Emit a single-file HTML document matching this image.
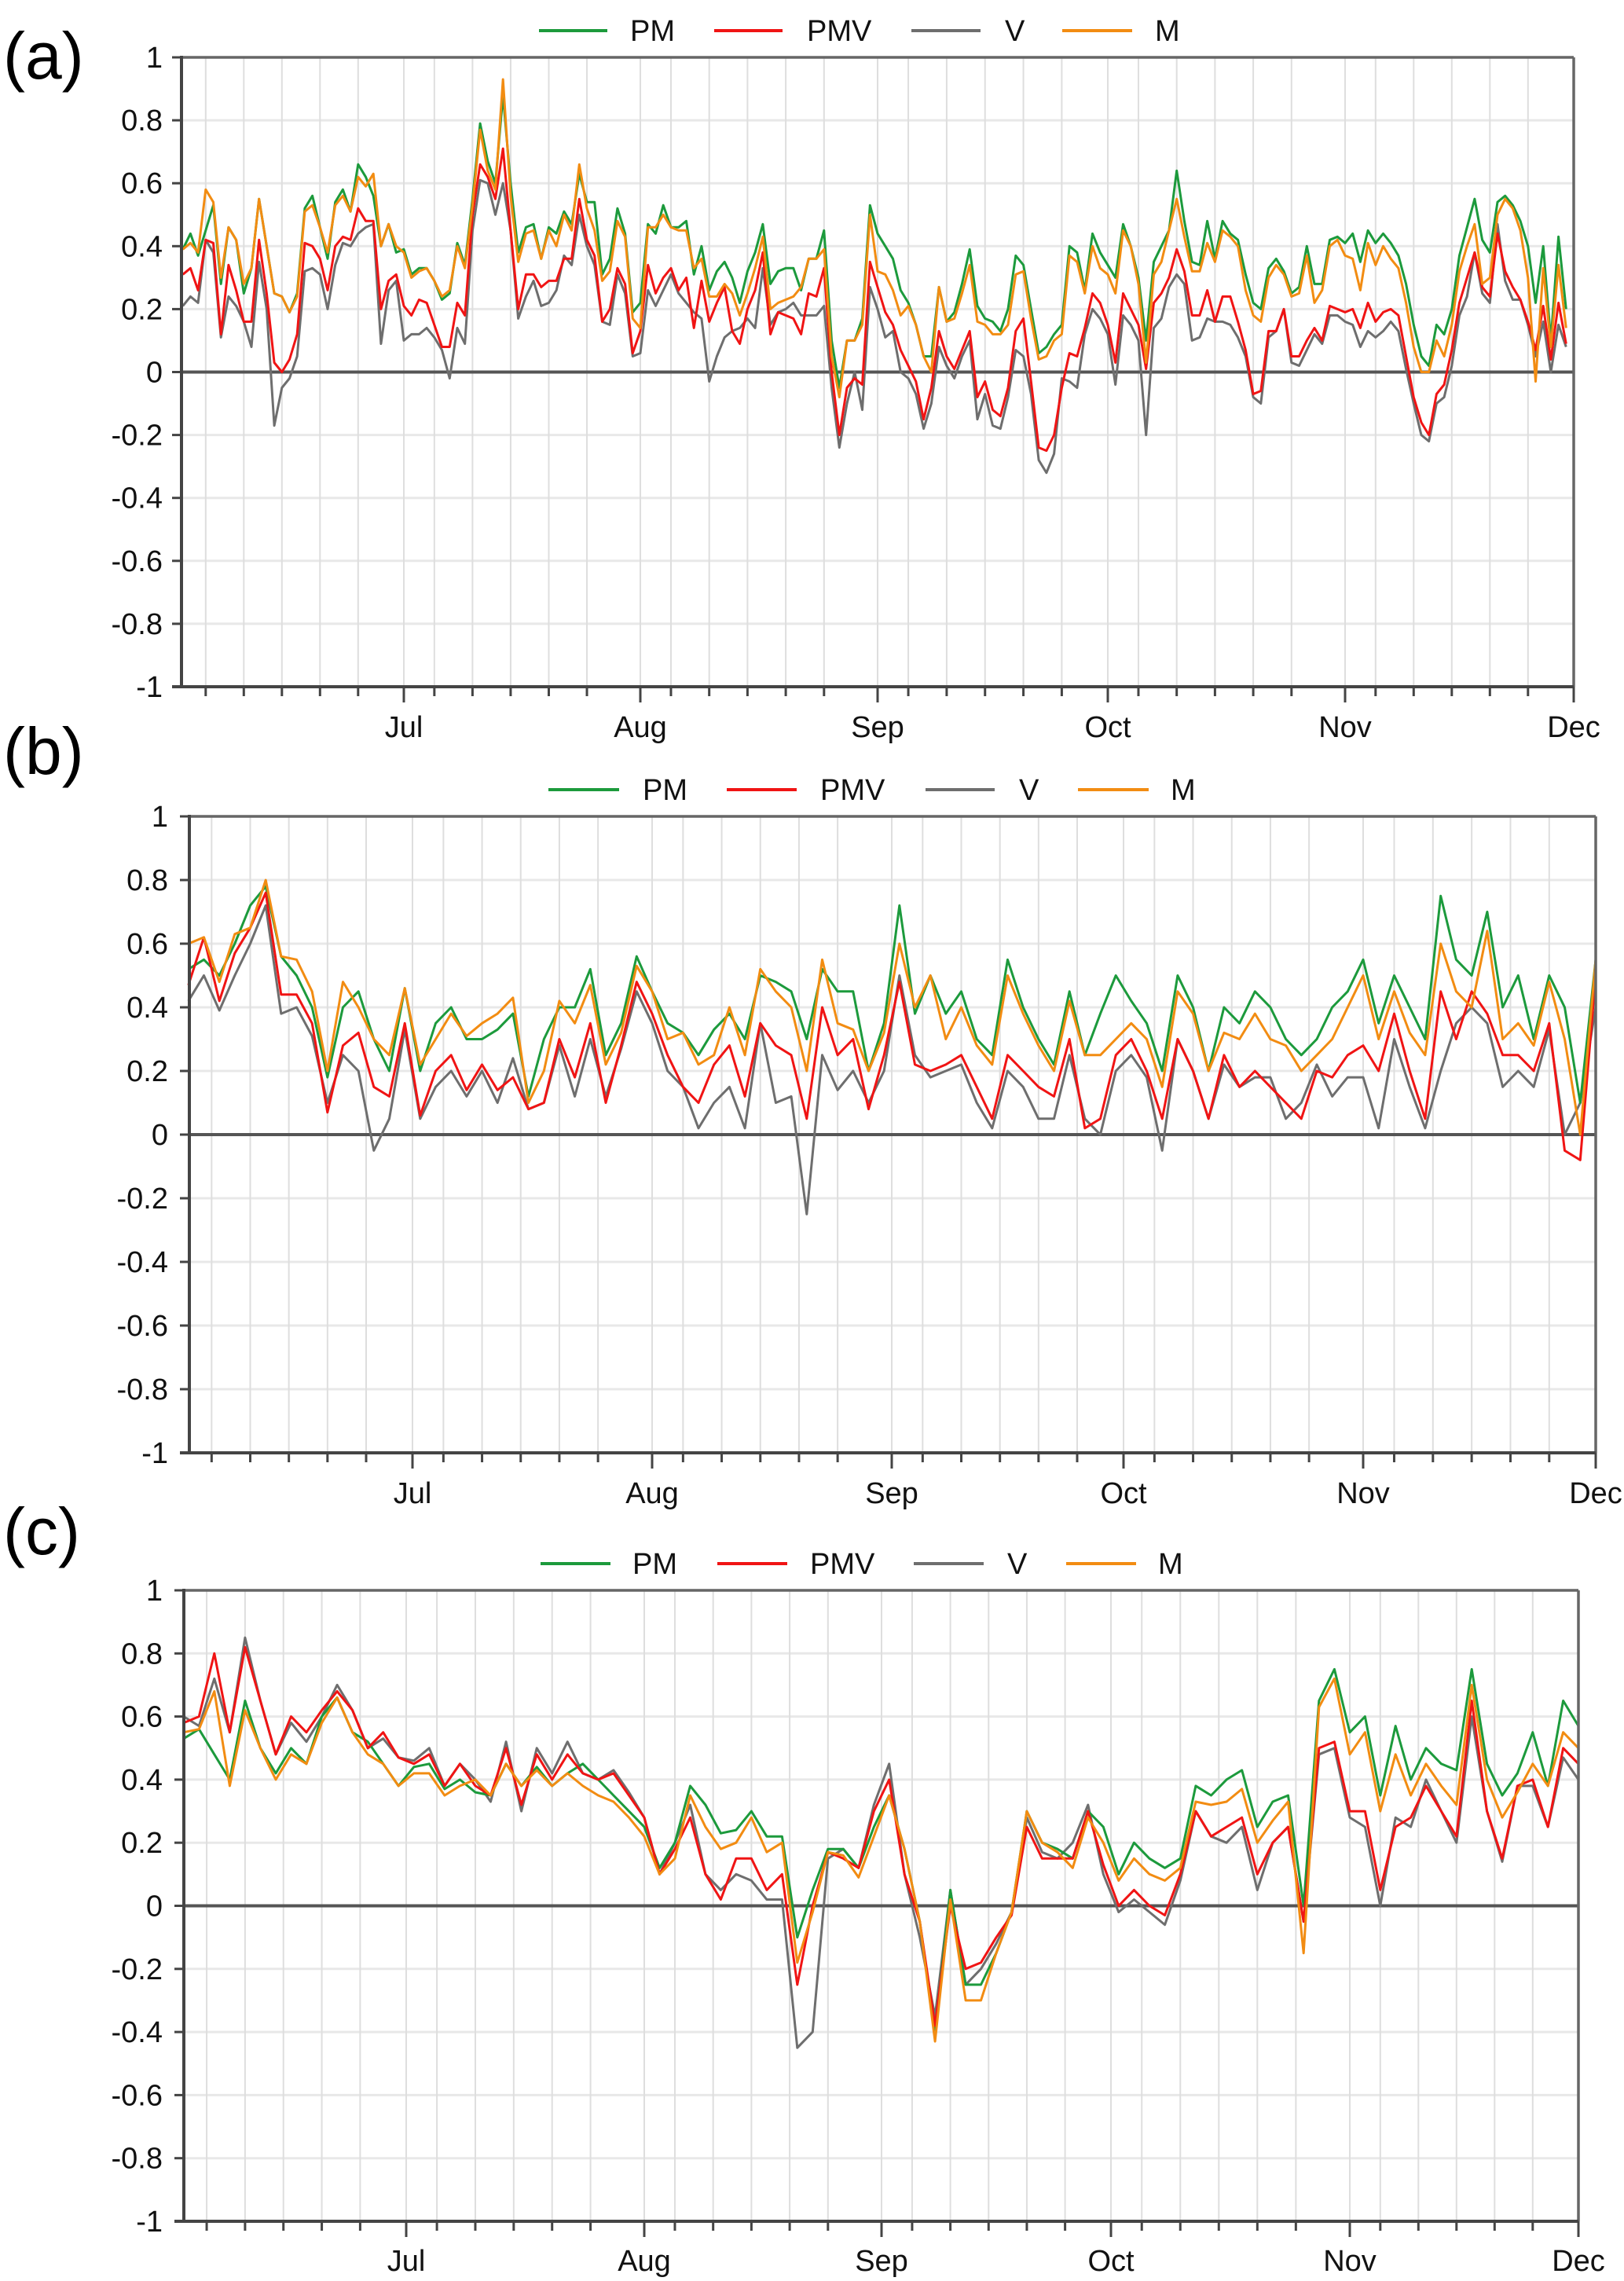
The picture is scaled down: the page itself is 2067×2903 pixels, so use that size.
<!DOCTYPE html>
<html>
<head>
<meta charset="utf-8">
<style>
  html,body{margin:0;padding:0;background:#fff;}
  svg{display:block;font-family:"Liberation Sans",sans-serif;}
</style>
</head>
<body>
<svg id="chart" xmlns="http://www.w3.org/2000/svg" width="2067" height="2903" viewBox="0 0 2067 2903"></svg>
<script>
// ---------- DATA ----------
const monthNames = ["Jul","Aug","Sep","Oct","Nov","Dec"];
const monthStartDays = [0,30,61,92,122,153,183]; // days since Jun 1
const yTicks = [1,0.8,0.6,0.4,0.2,0,-0.2,-0.4,-0.6,-0.8,-1];
const seriesNames = ["PM","PMV","V","M"];
const panelLabels = ["(a)","(b)","(c)"];

// Panel (a): daily values, day 1..182
const aPM = [.39,.44,.37,.45,.53,.28,.46,.42,.25,.33,.55,.40,.25,.24,.19,.25,.52,.56,.46,.36,.54,.58,.51,.66,.62,.56,.40,.47,.38,.39,.31,.33,.33,.29,.23,.25,.41,.34,.55,.79,.67,.60,.88,.60,.38,.46,.47,.36,.46,.44,.51,.47,.63,.54,.54,.31,.36,.52,.44,.19,.22,.47,.44,.53,.46,.46,.48,.31,.40,.26,.32,.35,.30,.22,.32,.38,.47,.28,.32,.33,.33,.26,.36,.36,.45,.10,-.05,.10,.10,.17,.53,.44,.40,.36,.26,.22,.15,.05,.05,.27,.16,.19,.28,.39,.21,.17,.16,.13,.20,.37,.34,.20,.06,.08,.12,.15,.40,.38,.26,.44,.38,.34,.30,.47,.40,.30,.10,.35,.40,.45,.64,.48,.35,.34,.48,.36,.48,.44,.42,.31,.22,.20,.33,.36,.32,.25,.27,.40,.28,.28,.42,.43,.41,.44,.35,.45,.41,.44,.41,.37,.28,.15,.05,.02,.15,.12,.20,.37,.46,.55,.42,.38,.54,.56,.53,.48,.40,.22,.40,.10,.43,.20];
const aPMV = [.31,.33,.26,.42,.41,.12,.34,.26,.16,.16,.42,.25,.03,.00,.04,.12,.41,.40,.36,.26,.40,.43,.42,.52,.48,.48,.20,.29,.31,.21,.18,.23,.22,.15,.08,.08,.22,.18,.50,.66,.62,.55,.71,.45,.20,.31,.31,.27,.29,.29,.36,.36,.55,.42,.37,.16,.20,.33,.28,.06,.13,.34,.25,.30,.33,.26,.30,.14,.29,.16,.22,.27,.13,.09,.20,.26,.38,.12,.19,.18,.17,.12,.25,.24,.33,.00,-.20,-.05,-.02,-.04,.35,.27,.19,.15,.07,.02,-.03,-.15,-.05,.13,.05,.01,.07,.13,-.08,-.03,-.12,-.14,-.05,.13,.17,-.03,-.24,-.25,-.20,-.05,.06,.05,.14,.25,.22,.15,.03,.25,.20,.15,.01,.22,.25,.30,.39,.32,.18,.18,.26,.16,.24,.24,.16,.07,-.07,-.06,.13,.13,.20,.05,.05,.10,.14,.10,.21,.20,.19,.20,.14,.22,.16,.19,.20,.18,.05,-.08,-.16,-.20,-.07,-.04,.07,.22,.30,.38,.27,.24,.44,.32,.27,.23,.16,.07,.21,.04,.22,.09];
const aV = [.21,.24,.22,.42,.38,.11,.24,.21,.16,.08,.35,.20,-.17,-.05,-.02,.05,.32,.33,.31,.20,.34,.41,.40,.44,.46,.47,.09,.26,.29,.10,.12,.12,.14,.11,.07,-.02,.14,.09,.45,.61,.60,.50,.60,.45,.17,.24,.29,.21,.22,.26,.37,.34,.50,.40,.34,.16,.15,.31,.25,.05,.06,.26,.21,.26,.31,.25,.22,.19,.17,-.03,.05,.11,.13,.14,.17,.14,.33,.15,.19,.20,.22,.18,.18,.18,.21,-.05,-.24,-.10,.00,-.12,.27,.20,.11,.13,.00,-.02,-.07,-.18,-.10,.08,.02,-.02,.05,.10,-.15,-.07,-.17,-.18,-.08,.07,.05,-.07,-.28,-.32,-.26,-.02,-.03,-.05,.12,.20,.17,.12,-.04,.18,.15,.10,-.20,.14,.17,.27,.31,.28,.10,.11,.17,.16,.16,.15,.11,.05,-.08,-.10,.11,.13,.20,.03,.02,.07,.12,.09,.18,.18,.16,.15,.08,.13,.11,.13,.16,.13,.01,-.10,-.20,-.22,-.10,-.08,.02,.18,.24,.38,.25,.22,.47,.29,.23,.23,.15,.05,.16,.00,.15,.08];
const aM = [.39,.41,.38,.58,.54,.30,.46,.42,.28,.33,.55,.40,.25,.24,.19,.24,.51,.53,.46,.38,.53,.56,.51,.62,.59,.63,.40,.47,.40,.38,.30,.32,.33,.29,.24,.26,.40,.33,.53,.77,.64,.58,.93,.56,.35,.44,.45,.36,.45,.40,.50,.45,.66,.52,.45,.29,.32,.48,.43,.17,.14,.46,.46,.50,.46,.45,.45,.33,.36,.24,.24,.28,.25,.18,.25,.33,.43,.20,.22,.23,.24,.27,.36,.36,.39,.05,-.08,.10,.10,.15,.50,.32,.31,.26,.18,.21,.15,.05,.00,.27,.16,.17,.25,.34,.16,.15,.12,.12,.15,.31,.32,.17,.04,.05,.10,.12,.37,.35,.25,.40,.33,.31,.25,.45,.40,.28,.03,.31,.35,.45,.55,.43,.32,.32,.41,.35,.45,.43,.40,.26,.18,.16,.30,.34,.31,.24,.25,.37,.22,.26,.40,.42,.37,.36,.26,.41,.34,.40,.36,.33,.22,.08,.00,.00,.10,.05,.15,.32,.40,.47,.28,.30,.50,.55,.52,.45,.30,-.03,.33,.08,.34,.14];

// Panel (b): every 2 days, day 1,3,...,183
const bPM = [.52,.55,.50,.60,.72,.78,.56,.50,.40,.18,.40,.45,.30,.20,.46,.20,.35,.40,.30,.30,.33,.38,.12,.30,.40,.40,.52,.25,.35,.56,.45,.35,.32,.25,.33,.38,.30,.50,.48,.45,.30,.52,.45,.45,.20,.35,.72,.38,.50,.38,.45,.30,.25,.55,.40,.30,.22,.45,.25,.38,.50,.42,.35,.20,.50,.40,.20,.40,.35,.45,.40,.30,.25,.30,.40,.45,.55,.35,.50,.40,.30,.75,.55,.50,.70,.40,.50,.30,.50,.40,.10,.55];
const bPMV = [.47,.62,.42,.57,.65,.76,.44,.44,.35,.07,.28,.32,.15,.12,.35,.06,.20,.25,.14,.22,.14,.18,.08,.10,.30,.18,.35,.10,.28,.48,.38,.25,.15,.10,.22,.28,.12,.35,.28,.25,.05,.40,.25,.30,.08,.25,.48,.22,.20,.22,.25,.15,.05,.25,.20,.15,.12,.30,.02,.05,.25,.30,.20,.05,.30,.20,.05,.25,.15,.20,.15,.10,.05,.20,.18,.25,.28,.20,.38,.20,.05,.45,.30,.45,.38,.25,.25,.20,.35,-.05,-.08,.50];
const bV = [.42,.50,.39,.50,.60,.72,.38,.40,.31,.10,.25,.20,-.05,.05,.33,.05,.15,.20,.12,.20,.10,.24,.08,.10,.28,.12,.30,.12,.27,.45,.35,.20,.15,.02,.10,.15,.02,.35,.10,.12,-.25,.25,.14,.20,.10,.20,.50,.25,.18,.20,.22,.10,.02,.20,.15,.05,.05,.25,.05,.00,.20,.25,.18,-.05,.30,.20,.05,.22,.15,.18,.18,.05,.10,.22,.12,.18,.18,.02,.30,.15,.02,.20,.35,.40,.35,.15,.20,.15,.33,.00,.10,.40];
const bM = [.60,.62,.48,.63,.65,.80,.56,.55,.45,.20,.48,.40,.30,.25,.46,.22,.30,.38,.31,.35,.38,.43,.10,.20,.42,.35,.47,.22,.32,.53,.45,.30,.32,.22,.25,.40,.25,.52,.45,.40,.20,.55,.35,.33,.20,.32,.60,.40,.50,.30,.40,.28,.22,.50,.38,.28,.20,.42,.25,.25,.30,.35,.30,.15,.45,.38,.20,.32,.30,.38,.30,.28,.20,.25,.30,.40,.50,.30,.45,.32,.25,.60,.45,.40,.64,.30,.35,.28,.48,.30,.00,.55];

// Panel (c): every 2 days, day 1,3,...,183
const cPM = [.53,.56,.48,.40,.65,.50,.42,.50,.45,.60,.66,.55,.52,.45,.38,.44,.45,.37,.40,.36,.35,.45,.38,.44,.38,.42,.45,.40,.35,.30,.25,.12,.20,.38,.32,.23,.24,.30,.22,.22,-.10,.05,.18,.18,.12,.25,.35,.18,-.05,-.40,.05,-.25,-.25,-.15,-.02,.30,.20,.18,.15,.30,.25,.10,.20,.15,.12,.15,.38,.35,.40,.43,.25,.33,.35,.00,.65,.75,.55,.60,.35,.57,.40,.50,.45,.43,.75,.45,.35,.42,.55,.38,.65,.57];
const cPMV = [.58,.60,.80,.55,.82,.65,.48,.60,.55,.62,.68,.62,.50,.55,.47,.45,.48,.38,.45,.38,.35,.50,.32,.48,.40,.48,.42,.40,.42,.35,.28,.10,.18,.28,.10,.02,.15,.15,.05,.10,-.25,.00,.17,.15,.12,.30,.40,.10,-.05,-.38,.00,-.20,-.18,-.10,-.03,.25,.15,.15,.15,.30,.13,.00,.05,.00,-.03,.10,.30,.22,.25,.28,.10,.20,.25,-.05,.50,.52,.30,.30,.05,.25,.28,.38,.30,.22,.65,.30,.15,.38,.40,.25,.50,.45];
const cV = [.60,.57,.72,.55,.85,.65,.48,.58,.52,.60,.70,.62,.50,.53,.47,.46,.50,.38,.45,.40,.33,.52,.30,.50,.42,.52,.42,.40,.43,.36,.28,.10,.20,.32,.10,.05,.10,.08,.02,.02,-.45,-.40,.15,.18,.12,.32,.45,.10,-.10,-.35,.05,-.25,-.20,-.12,-.02,.28,.17,.15,.20,.32,.10,-.02,.02,-.02,-.06,.08,.30,.22,.20,.25,.05,.20,.25,-.05,.48,.50,.28,.25,.00,.28,.25,.40,.30,.20,.60,.30,.14,.38,.38,.25,.47,.40];
const cM = [.55,.56,.68,.38,.62,.50,.40,.48,.45,.58,.66,.55,.48,.45,.38,.42,.42,.35,.38,.40,.35,.45,.38,.43,.38,.42,.38,.35,.33,.28,.22,.10,.15,.35,.25,.18,.20,.28,.17,.20,-.18,-.02,.17,.16,.09,.22,.35,.18,-.05,-.43,.02,-.30,-.30,-.15,-.02,.30,.20,.17,.12,.28,.20,.08,.15,.10,.08,.12,.33,.32,.33,.37,.20,.27,.33,-.15,.63,.72,.48,.55,.30,.48,.35,.45,.38,.32,.70,.40,.28,.36,.45,.38,.55,.50];

// ---------- LAYOUT ----------
const COLORS = {PM:"#1c9a3c", PMV:"#f01414", V:"#6e6e6e", M:"#f28c12"};
const panels = [
  {key:"a", label:panelLabels[0], labelY:100, left:231, right:2003, y1:73, yn1:874, monthPx:[223,514,815,1117,1410,1712,2003], monthLabelY:938, tickLabelRight:207, step:1,
   legendY:39, legend:[[686,773,802],[909,996,1027],[1160,1248,1279],[1352,1441,1470]],
   series:{PM:aPM, PMV:aPMV, V:aV, M:aM}},
  {key:"b", label:panelLabels[1], labelY:985, left:241, right:2031, y1:1039, yn1:1849, monthPx:[230,525,830,1135,1430,1735,2031], monthLabelY:1913, tickLabelRight:214, step:2,
   legendY:1005, legend:[[698,788,818],[925,1014,1044],[1178,1266,1297],[1372,1462,1490]],
   series:{PM:bPM, PMV:bPMV, V:bV, M:bM}},
  {key:"c", label:panelLabels[2], labelY:1978, left:234, right:2009, y1:2024, yn1:2827, monthPx:[224,517,820,1122,1414,1718,2009], monthLabelY:2890, tickLabelRight:207, step:2,
   legendY:1990, legend:[[688,777,805],[913,1002,1031],[1163,1252,1282],[1357,1446,1474]],
   series:{PM:cPM, PMV:cPMV, V:cV, M:cM}}
];

const NS = "http://www.w3.org/2000/svg";
const svg = document.getElementById("chart");
function mk(tag, attrs, parent){
  const e = document.createElementNS(NS, tag);
  for (const k in attrs) e.setAttribute(k, attrs[k]);
  (parent||svg).appendChild(e);
  return e;
}
function xScale(p, day){
  const d = monthStartDays, m = p.monthPx;
  for (let i=0;i<d.length-1;i++){
    if (day <= d[i+1] || i === d.length-2){
      return m[i] + (day - d[i]) * (m[i+1]-m[i]) / (d[i+1]-d[i]);
    }
  }
}
function yScale(p, v){
  const zero = (p.y1 + p.yn1)/2;
  return zero - v * (zero - p.y1);
}

panels.forEach(p => {
  const g = mk("g", {});
  
  

  const pl = mk("text", {x:4, y:p.labelY, "font-size":84, fill:"#000"}, g);
  
  
  pl.textContent = p.label;

  const hg = mk("g", {}, g);
  
  
  yTicks.forEach(v => {
    const y = yScale(p, v);
    if (v !== 0 && v !== 1 && v !== -1) mk("line", {x1:p.left, x2:p.right, y1:y, y2:y, stroke:"#e8e8e8", "stroke-width":3}, hg);
  });

  const vg = mk("g", {}, g);
  
  
  for (let mi=0; mi<monthStartDays.length; mi++){
    const s = monthStartDays[mi];
    const days = [s];
    if (mi < monthStartDays.length-1) [4,9,14,19,24].forEach(o => days.push(s+o));
    days.forEach((d, k) => {
      const x = xScale(p, d);
      if (x < p.left + 2 || x > p.right + 1) return;
      if (x < p.right - 2) mk("line", {x1:x, x2:x, y1:p.y1, y2:p.yn1, stroke:"#dedede", "stroke-width":2}, vg);
      mk("line", {x1:x, x2:x, y1:p.yn1, y2:p.yn1 + (k===0 ? 20 : 12), stroke:"#444", "stroke-width":3}, vg);
    });
  }

  monthNames.forEach((name, i) => {
    const t = mk("text", {x:p.monthPx[i+1], y:p.monthLabelY, "font-size":38, "text-anchor":"middle", fill:"#111"}, g);
    
    
    t.textContent = name;
  });

  yTicks.forEach(v => {
    const y = yScale(p, v);
    mk("line", {x1:p.left-12, x2:p.left, y1:y, y2:y, stroke:"#444", "stroke-width":3}, g);
    const t = mk("text", {x:p.tickLabelRight, y:y+13, "font-size":38, "text-anchor":"end", fill:"#111"}, g);
    
    
    t.textContent = String(v);
  });

  const zl = mk("line", {x1:p.left, x2:p.right, y1:yScale(p,0), y2:yScale(p,0), stroke:"#555", "stroke-width":4}, g);
  
  

  ["V","PM","PMV","M"].forEach(name => {
    const vals = p.series[name];
    const pts = vals.map((v,i) => xScale(p, 1 + i*p.step).toFixed(1) + "," + yScale(p, v).toFixed(1)).join(" ");
    const pl2 = mk("polyline", {points:pts, fill:"none", stroke:COLORS[name], "stroke-width":3, "stroke-linejoin":"round"}, g);
    
    
  });

  mk("line", {x1:p.left, x2:p.right, y1:p.y1, y2:p.y1, stroke:"#666", "stroke-width":3.5}, g);
  mk("line", {x1:p.right, x2:p.right, y1:p.y1, y2:p.yn1, stroke:"#666", "stroke-width":3.5}, g);
  const ya = mk("line", {x1:p.left, x2:p.left, y1:p.y1-2, y2:p.yn1+2, stroke:"#444", "stroke-width":4}, g);
  
  
  const xa = mk("line", {x1:p.left-12, x2:p.right, y1:p.yn1, y2:p.yn1, stroke:"#444", "stroke-width":4}, g);
  
  

  const lg = mk("g", {}, g);
  
  
  seriesNames.forEach((name, i) => {
    const [x1, x2, tx] = p.legend[i];
    const ln = mk("line", {x1:x1, x2:x2, y1:p.legendY, y2:p.legendY, stroke:COLORS[name], "stroke-width":4}, lg);
    
    
    const t = mk("text", {x:tx, y:p.legendY+13, "font-size":38, fill:"#111"}, lg);
    
    
    t.textContent = name;
  });
});
</script>
</body>
</html>
